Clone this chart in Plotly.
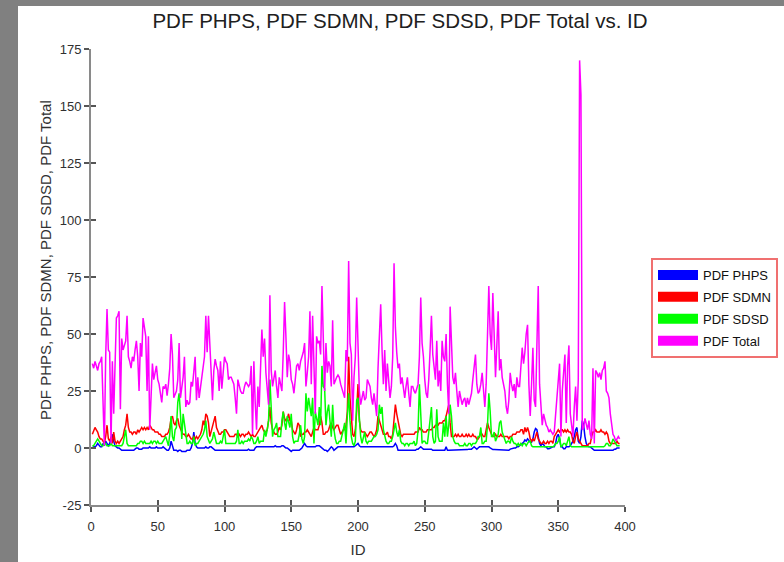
import plotly.graph_objects as go

# Record IDs 1..396
ids = list(range(1, 397))

pdf_total = [
    37, 35, 38, 36, 34, 37, 38, 40, 20, 1,
    40, 61, 43, 42, 2, 38, 15, 40, 57, 58,
    60, 17, 48, 43, 45, 47, 58, 40, 38, 35,
    40, 38, 43, 47, 40, 25, 46, 40, 57, 52,
    49, 25, 49, 8, 20, 37, 30, 33, 36, 30,
    28, 24, 20, 27, 26, 28, 23, 28, 35, 50,
    41, 22, 24, 25, 30, 46, 22, 26, 31, 40,
    18, 21, 19, 20, 29, 27, 33, 40, 21, 31,
    22, 26, 31, 36, 40, 58, 42, 58, 43, 28,
    21, 34, 39, 36, 34, 25, 38, 26, 32, 40,
    38, 37, 30, 31, 31, 29, 28, 22, 15, 30,
    27, 25, 24, 24, 27, 29, 28, 27, 28, 36,
    6, 38, 20, 8, 27, 18, 35, 52, 40, 48,
    33, 26, 19, 67, 34, 27, 30, 34, 27, 22,
    31, 28, 25, 42, 64, 49, 31, 41, 38, 30,
    28, 24, 30, 36, 37, 34, 38, 40, 42, 46,
    27, 33, 40, 60, 28, 58, 40, 15, 49, 46,
    47, 41, 71, 53, 25, 46, 33, 38, 36, 27,
    56, 28, 30, 31, 32, 31, 28, 26, 25, 22,
    43, 38, 82, 46, 41, 12, 31, 40, 66, 47,
    25, 19, 23, 25, 21, 22, 30, 28, 27, 22,
    19, 24, 20, 14, 35, 50, 63, 43, 28, 43,
    25, 37, 31, 22, 27, 40, 81, 53, 42, 35,
    37, 28, 31, 26, 22, 27, 31, 24, 18, 27,
    27, 25, 24, 26, 28, 40, 66, 46, 40, 30,
    24, 22, 30, 43, 58, 41, 35, 30, 47, 27,
    34, 25, 47, 40, 38, 50, 28, 15, 62, 43,
    31, 28, 33, 25, 18, 25, 22, 19, 21, 22,
    18, 22, 19, 21, 24, 30, 36, 41, 28, 24,
    25, 28, 33, 25, 18, 28, 50, 71, 50, 43,
    68, 50, 31, 45, 60, 34, 39, 31, 28, 25,
    18, 15, 21, 33, 28, 25, 28, 22, 31, 27,
    27, 34, 44, 37, 42, 50, 54, 28, 14, 28,
    44, 21, 18, 45, 71, 28, 16, 10, 15, 12,
    10, 9, 7, 8, 7, 6, 7, 14, 20, 29,
    37, 5, 25, 33, 41, 11, 36, 45, 15, 10,
    5, 18, 27, 12, 30, 170, 155, 8, 9, 13,
    11, 8, 12, 6, 4, 35, 2, 34, 33, 31,
    33, 30, 34, 35, 38, 25, 24, 22, 15, 10,
    6, 5, 3, 4, 5, 4,
]

pdf_sdmn = [
    6, 8, 9, 8, 7, 5, 4, 4, 3, 2,
    5, 10, 4, 3, 5, 2, 7, 3, 2, 3,
    2, 3, 4, 5, 8, 10, 15, 9, 7, 7,
    6, 7, 7, 6, 8, 7, 8, 9, 8, 9,
    8, 9, 8, 10, 9, 8, 8, 7, 7, 7,
    6, 6, 5, 5, 5, 6, 6, 7, 9, 13,
    14, 11, 10, 12, 13, 10, 8, 7, 6, 6,
    5, 5, 6, 5, 4, 4, 5, 4, 5, 4,
    5, 6, 8, 12, 10, 15, 14, 11, 5, 7,
    9, 12, 14, 9, 7, 6, 6, 7, 7, 8,
    8, 7, 6, 5, 5, 5, 5, 6, 6, 5,
    6, 5, 6, 6, 5, 6, 6, 7, 6, 5,
    6, 5, 5, 6, 7, 8, 9, 10, 8, 7,
    7, 8, 12, 18, 11, 8, 7, 6, 6, 7,
    9, 8, 10, 16, 13, 12, 13, 15, 12, 12,
    8, 7, 6, 8, 11, 10, 5, 6, 6, 7,
    7, 8, 7, 6, 5, 7, 9, 8, 8, 8,
    10, 14, 11, 6, 6, 7, 7, 8, 10, 11,
    9, 8, 9, 10, 10, 8, 6, 7, 8, 8,
    10, 16, 40, 22, 11, 6, 5, 8, 16, 28,
    12, 8, 7, 7, 7, 6, 5, 6, 7, 7,
    6, 5, 6, 8, 14, 12, 11, 8, 6, 6,
    6, 7, 5, 5, 4, 6, 12, 19, 15, 12,
    8, 6, 5, 6, 6, 6, 6, 6, 6, 6,
    6, 6, 7, 7, 7, 9, 8, 8, 7, 7,
    7, 8, 8, 8, 8, 9, 9, 10, 10, 10,
    11, 11, 11, 12, 12, 14, 17, 19, 11, 5,
    5, 5, 6, 5, 6, 5, 5, 6, 5, 5,
    6, 5, 6, 5, 5, 6, 5, 5, 4, 4,
    5, 7, 6, 5, 5, 8, 11, 9, 7, 6,
    5, 5, 6, 5, 5, 5, 6, 5, 5, 5,
    5, 5, 4, 5, 5, 6, 6, 6, 7, 7,
    7, 8, 8, 6, 9, 7, 9, 7, 4, 3,
    4, 3, 5, 7, 4, 3, 2, 2, 3, 2,
    2, 3, 2, 3, 3, 2, 5, 6, 7, 8,
    7, 8, 8, 7, 8, 7, 8, 7, 7, 6,
    3, 2, 5, 7, 4, 3, 2, 1, 1, 1,
    1, 1, 2, 2, 5, 7, 7, 8, 7, 7,
    7, 8, 7, 7, 6, 7, 6, 3, 2, 2,
    2, 2, 2, 3, 2, 2,
]

pdf_sdsd = [
    1, 1, 2, 3, 4, 3, 2, 1, 1, 2,
    2, 1, 1, 1, 2, 1, 1, 1, 1, 1,
    1, 1, 1, 2, 5, 8, 2, 1, 1, 1,
    1, 1, 1, 1, 2, 2, 3, 3, 2, 3,
    2, 2, 2, 2, 3, 2, 3, 3, 2, 3,
    2, 2, 2, 3, 4, 5, 3, 1, 6, 14,
    5, 3, 8, 9, 20, 24, 15, 4, 15, 11,
    5, 2, 2, 3, 2, 2, 5, 1, 2, 2,
    3, 4, 5, 6, 8, 12, 5, 3, 2, 3,
    4, 7, 5, 2, 2, 2, 3, 2, 5, 8,
    2, 2, 2, 2, 2, 2, 2, 2, 3, 8,
    2, 2, 3, 2, 3, 3, 3, 4, 3, 5,
    4, 2, 2, 3, 5, 2, 3, 3, 3, 8,
    5, 8, 12, 30, 14, 5, 8, 9, 11, 5,
    5, 5, 12, 16, 11, 8, 14, 11, 9, 15,
    5, 2, 3, 3, 3, 6, 10, 4, 2, 5,
    24, 16, 22, 18, 14, 22, 2, 16, 12, 10,
    18, 10, 36, 27, 26, 10, 16, 19, 12, 5,
    19, 8, 4, 2, 2, 3, 3, 5, 8, 11,
    2, 14, 24, 12, 5, 2, 1, 3, 21, 22,
    14, 5, 2, 4, 7, 3, 2, 3, 3, 3,
    4, 5, 5, 6, 8, 19, 15, 18, 8, 5,
    3, 2, 2, 3, 3, 5, 8, 11, 7, 5,
    8, 3, 2, 2, 1, 2, 2, 1, 2, 2,
    2, 3, 1, 2, 8, 28, 16, 2, 3, 3,
    2, 2, 7, 14, 18, 5, 2, 3, 17, 5,
    3, 3, 3, 11, 5, 14, 5, 10, 19, 14,
    5, 3, 2, 2, 2, 1, 1, 1, 1, 2,
    1, 1, 2, 2, 1, 2, 2, 2, 3, 5,
    5, 9, 2, 2, 3, 3, 10, 24, 16, 5,
    5, 7, 3, 5, 6, 11, 12, 7, 5, 3,
    2, 3, 3, 2, 5, 3, 2, 2, 1, 2,
    1, 2, 1, 2, 2, 1, 2, 3, 3, 1,
    0.5, 0.5, 0.5, 0.5, 0.5, 0.5, 0.5, 0.5, 0.5, 0.5,
    0.5, 0.5, 0.5, 0.5, 0.5, 0.5, 1, 2, 2, 3,
    5, 0.5, 1, 2, 2, 1, 3, 5, 1, 0.5,
    0.5, 0.5, 0.5, 0.5, 0.5, 0.5, 0.5, 0.5, 0.5, 0.5,
    0.5, 0.5, 0.5, 0.5, 0.5, 0.5, 0.5, 0.5, 0.5, 0.5,
    0.5, 0.5, 0.5, 0.5, 1, 2, 2, 1, 1, 2,
    4, 3, 2, 1, 1, 1,
]

pdf_phps = [
    0, 0.5, 0.5, 1, 2, 1, 0.5, 0.5, 2, 1,
    3, 2, 1, 2, 4, 6, 3, 1, 0.5, 0,
    0, -0.5, -1, -1, -1, -1, -1, -1, -1, -1,
    -1, -1, -0.5, 0, 0, -0.5, -0.5, -0.5, 0, 0,
    0, 0, 0, 0.5, 0, 0, 0, 0, 0.5, 0,
    0, 0, 0, 0.5, 0, -0.5, -1, -1, 0, 3,
    0.5, -1, -1, -1, -1.5, -1, -1, -1.5, -1.5, -1.5,
    -1.5, -1, -1, -1, 0, 2, 7, 2, 0.5, 0,
    0, 0, 0, 0, 0, 0.5, 0, 0, 0.5, 0.5,
    0, -0.5, -1, -1, -1, -1, -1, -1, -1, -1,
    -1, -1, -1, -1, -1, -1, -1, -1, -1, -1,
    -1, -1, -1, -1, -1, -1, -1, -0.5, -1, -1,
    -1, -1, 0, 0.5, 0.5, 0.5, 0.5, 0.5, 0.5, 0.5,
    0.5, 0.5, 0.5, 0.5, 0.5, 0.5, 0.5, 1, 0.5, 0.5,
    0.5, 0.5, 1, 1, 0.5, 0, 0, -0.5, -1, -1.5,
    -1, -1, -1, -1, -1, -1, -0.5, 0, 1, 2,
    1, 0.5, 0.5, 0.5, 0.5, 0.5, 0.5, 0.5, 1, 1,
    1, 0.5, 0, -0.5, -1, -1, -1.5, -1, 0, 0.5,
    0, -1, -0.5, 0, 0.5, 0.5, 0.5, 0.5, 0.5, 0.5,
    0.5, 0.5, 0.5, 0.5, 0.5, 0.5, 0.5, 1, 1.5, 2,
    1, 0.5, 0.5, 0.5, 0.5, 0.5, 0.5, 0.5, 0.5, 0.5,
    0.5, 0.5, 0.5, 0.5, 0.5, 0.5, 0.5, 0.5, 0.5, 0.5,
    0.5, 0.5, 0.5, 0.5, 0.5, 0.5, 1, 2, 1, -1,
    -1, -1, -1, -1, -1, -1, -1, -1, -1, -1,
    -1, -1, -1, -0.5, -0.5, 0, 0.5, 0, -0.5, -0.5,
    -0.5, -0.5, -0.5, -0.5, -0.5, -1, -1, -1, -1, -1,
    -1, -1, -1, -1, -1, 0.5, -1, -1, -1, -1,
    -1, -1, -1, -0.7, -0.7, -0.7, -0.7, -0.7, -0.7, -0.7,
    -0.7, -0.7, -0.5, -0.5, -0.5, 0, 0.5, 0, -0.5, 0,
    0.5, 0.5, 0.5, 0.5, 0.5, 0.5, 0.5, 0.5, 0, -0.5,
    -0.7, -0.7, -0.7, -0.7, -0.7, -0.7, -0.7, -0.7, -0.7, -0.7,
    -1, -1, -1, -0.5, -0.3, 0, 0, 0, 0.5, 0.5,
    1, 1.5, 2, 2.5, 3.5, 3, 4, 3, 2.5, 2.5,
    4, 7, 8.5, 8, 5, 2, 1, 2, 1.5, 0.5,
    0.5, -0.3, -0.3, 0, 0, 0.5, 0.5, 2, 5, 6,
    4, 0.5, 0.5, -0.3, -0.3, 0.5, 0.5, 0.5, 1, 2,
    3, 5, 8, 9, 3, 2, 5, 12, 10, 5,
    2, 1, 0.5, 0.5, 0, -0.5, -1, -1, -1, -1,
    -1, -1, -1, -1, -1, -1, -1, -1, -1, -1,
    -1, -0.5, -0.5, 0, 0, 0,
]

series = [
    ("PDF PHPS", pdf_phps, "#0000ff"),
    ("PDF SDMN", pdf_sdmn, "#ff0000"),
    ("PDF SDSD", pdf_sdsd, "#00ff00"),
    ("PDF Total", pdf_total, "#ff00ff"),
]

x_ticks = [0, 50, 100, 150, 200, 250, 300, 350, 400]
y_ticks = [-25, 0, 25, 50, 75, 100, 125, 150, 175]
y_tick_text = ["-25", "0", "25", "50", "75", "100", "125", "150", "175"]

fig = go.Figure()

for name, vals, color in series:
    # the plotted line
    fig.add_trace(go.Scatter(
        x=ids, y=vals, mode="lines", name=name,
        line=dict(color=color, width=1.5), showlegend=False,
    ))
for name, vals, color in series:
    # legend swatch: a thick stroke stands in for a colour block
    fig.add_trace(go.Scatter(
        x=[None], y=[None], mode="lines", name=name, legendgroup=name,
        line=dict(color=color, width=16),
    ))

# hidden overlay axes give the ticks their inner half
fig.add_trace(go.Scatter(x=[None], y=[None], xaxis="x2", yaxis="y2",
                         showlegend=False, hoverinfo="skip"))

W, H = 784, 562
L, R, T, B = 91, 159, 49, 57
pw, ph = W - L - R, H - T - B

def px_x(px):
    return (px - L) / pw

def px_y(py):
    return (H - B - py) / ph

font_family = "Liberation Sans, Arial, sans-serif"
axis_gray = "#8a8a8a"
txt = "#303030"
tick_font = dict(family=font_family, size=13, color=txt)

common = dict(showgrid=False, zeroline=False, showline=True, linecolor=axis_gray,
              linewidth=2, ticks="outside", ticklen=5, tickwidth=1.5,
              tickcolor="#555555", tickfont=tick_font, automargin=False)

fig.update_layout(
    width=W, height=H,
    margin=dict(l=L, r=R, t=T, b=B, pad=0, autoexpand=False),
    paper_bgcolor="white", plot_bgcolor="white",
    title=dict(text="PDF PHPS, PDF SDMN, PDF SDSD, PDF Total vs. ID",
               x=400 / W, xref="container", xanchor="center",
               y=1 - 21 / H, yref="container", yanchor="middle",
               font=dict(family=font_family, size=20.5, color="#202020")),
    xaxis=dict(range=[0, 400], tickvals=x_ticks, ticklabelstandoff=3, **common,
               title=dict(text="ID", standoff=12,
                          font=dict(family=font_family, size=15, color=txt))),
    yaxis=dict(range=[-25, 175], tickvals=y_ticks, ticktext=y_tick_text, **common),
    xaxis2=dict(range=[0, 400], tickvals=x_ticks, overlaying="x", anchor="y",
                showgrid=False, zeroline=False, showline=False, showticklabels=False,
                ticks="inside", ticklen=5, tickwidth=1.5, tickcolor="#555555"),
    yaxis2=dict(range=[-25, 175], tickvals=y_ticks, overlaying="y", anchor="x", side="left",
                showgrid=False, zeroline=False, showline=False, showticklabels=False,
                ticks="inside", ticklen=5, tickwidth=1.5, tickcolor="#555555"),
    legend=dict(x=px_x(651), y=px_y(258), xanchor="left", yanchor="top",
                bgcolor="white", bordercolor="#f07070", borderwidth=2,
                font=dict(family=font_family, size=13, color="#111111"),
                itemwidth=40, tracegroupgap=2),
    showlegend=True,
)

# rotated y-axis caption
fig.add_annotation(text="PDF PHPS, PDF SDMN, PDF SDSD, PDF Total",
                   xref="paper", yref="paper", x=px_x(45), y=px_y(260),
                   textangle=-90, showarrow=False, xanchor="center", yanchor="middle",
                   font=dict(family=font_family, size=15, color=txt))

# grey window frame along the left and top edges
frame = "#808080"
fig.add_shape(type="rect", xref="paper", yref="paper", layer="below",
              x0=px_x(0), x1=px_x(18), y0=px_y(H), y1=px_y(0),
              fillcolor=frame, line=dict(width=0))
fig.add_shape(type="rect", xref="paper", yref="paper", layer="below",
              x0=px_x(0), x1=px_x(W), y0=px_y(6), y1=px_y(0),
              fillcolor=frame, line=dict(width=0))

fig.write_html("out.html")
